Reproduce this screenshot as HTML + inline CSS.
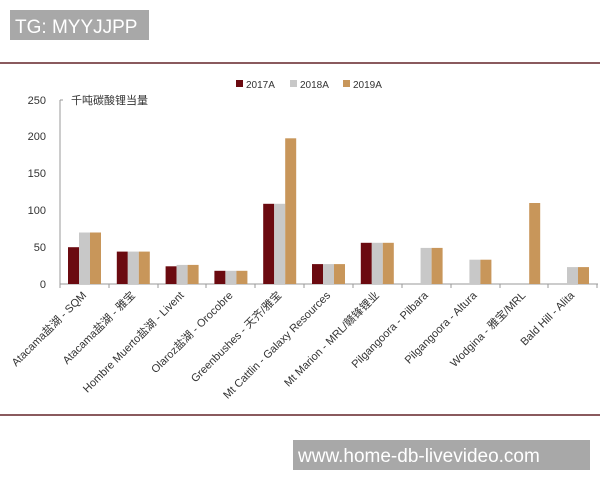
<!DOCTYPE html>
<html><head><meta charset="utf-8"><style>
body{margin:0;background:#fff;}
svg{display:block;font-family:"Liberation Sans","Noto Sans CJK SC",sans-serif;}
</style></head><body>
<svg width="600" height="480" viewBox="0 0 600 480" xmlns="http://www.w3.org/2000/svg">
<rect x="10" y="10" width="139" height="30" fill="#a8a8a8"/>
<text x="15" y="33" font-size="19" fill="#fff">TG: MYYJJPP</text>
<line x1="0" y1="63" x2="600" y2="63" stroke="#8a5a5e" stroke-width="2"/>
<line x1="0" y1="415" x2="600" y2="415" stroke="#8a5a5e" stroke-width="2"/>
<rect x="293" y="440" width="297" height="30" fill="#a8a8a8"/>
<text x="298" y="462" font-size="19" fill="#fff">www.home-db-livevideo.com</text>
<rect x="236" y="80" width="7" height="7" fill="#6b0a10"/><text x="246" y="88" font-size="10" fill="#333">2017A</text>
<rect x="290" y="80" width="7" height="7" fill="#c8c8c8"/><text x="300" y="88" font-size="10" fill="#333">2018A</text>
<rect x="343" y="80" width="7" height="7" fill="#c8965a"/><text x="353" y="88" font-size="10" fill="#333">2019A</text>
<g font-size="11" fill="#333" text-anchor="end">
<text x="46" y="288">0</text><text x="46" y="251">50</text><text x="46" y="214">100</text><text x="46" y="177">150</text><text x="46" y="140">200</text><text x="46" y="104">250</text>
</g>
<line x1="60" y1="100" x2="60" y2="284" stroke="#999"/>
<line x1="60" y1="100" x2="63" y2="100" stroke="#999"/>
<line x1="60" y1="284" x2="598" y2="284" stroke="#999"/>
<g stroke="#999">
<line x1="60" y1="284" x2="60" y2="288"/><line x1="109" y1="284" x2="109" y2="288"/><line x1="158" y1="284" x2="158" y2="288"/><line x1="206" y1="284" x2="206" y2="288"/><line x1="255" y1="284" x2="255" y2="288"/><line x1="304" y1="284" x2="304" y2="288"/><line x1="353" y1="284" x2="353" y2="288"/><line x1="402" y1="284" x2="402" y2="288"/><line x1="451" y1="284" x2="451" y2="288"/><line x1="500" y1="284" x2="500" y2="288"/><line x1="548" y1="284" x2="548" y2="288"/><line x1="597" y1="284" x2="597" y2="288"/>
</g>
<text x="71" y="104" font-size="11" fill="#333">千吨碳酸锂当量</text>
<g>
<rect x="68" y="247.2" width="11" height="36.8" fill="#6b0a10"/><rect x="79" y="232.5" width="11" height="51.5" fill="#c8c8c8"/><rect x="90" y="232.5" width="11" height="51.5" fill="#c8965a"/>
<rect x="116.8" y="251.6" width="11" height="32.4" fill="#6b0a10"/><rect x="127.8" y="251.6" width="11" height="32.4" fill="#c8c8c8"/><rect x="138.8" y="251.6" width="11" height="32.4" fill="#c8965a"/>
<rect x="165.6" y="266.3" width="11" height="17.7" fill="#6b0a10"/><rect x="176.6" y="264.9" width="11" height="19.1" fill="#c8c8c8"/><rect x="187.6" y="264.9" width="11" height="19.1" fill="#c8965a"/>
<rect x="214.4" y="270.8" width="11" height="13.2" fill="#6b0a10"/><rect x="225.4" y="270.8" width="11" height="13.2" fill="#c8c8c8"/><rect x="236.4" y="270.8" width="11" height="13.2" fill="#c8965a"/>
<rect x="263.2" y="203.8" width="11" height="80.2" fill="#6b0a10"/><rect x="274.2" y="203.8" width="11" height="80.2" fill="#c8c8c8"/><rect x="285.2" y="138.3" width="11" height="145.7" fill="#c8965a"/>
<rect x="312" y="264.1" width="11" height="19.9" fill="#6b0a10"/><rect x="323" y="264.1" width="11" height="19.9" fill="#c8c8c8"/><rect x="334" y="264.1" width="11" height="19.9" fill="#c8965a"/>
<rect x="360.8" y="242.8" width="11" height="41.2" fill="#6b0a10"/><rect x="371.8" y="242.8" width="11" height="41.2" fill="#c8c8c8"/><rect x="382.8" y="242.8" width="11" height="41.2" fill="#c8965a"/>
<rect x="420.6" y="247.9" width="11" height="36.1" fill="#c8c8c8"/><rect x="431.6" y="247.9" width="11" height="36.1" fill="#c8965a"/>
<rect x="469.4" y="259.7" width="11" height="24.3" fill="#c8c8c8"/><rect x="480.4" y="259.7" width="11" height="24.3" fill="#c8965a"/>
<rect x="529.2" y="203" width="11" height="81" fill="#c8965a"/>
<rect x="567" y="267.1" width="11" height="16.9" fill="#c8c8c8"/><rect x="578" y="267.1" width="11" height="16.9" fill="#c8965a"/>
</g>
<g font-size="11" fill="#333" text-anchor="end">
<text transform="translate(87,296) rotate(-45)">Atacama盐湖 - SQM</text>
<text transform="translate(135.8,296) rotate(-45)">Atacama盐湖 - 雅宝</text>
<text transform="translate(184.6,296) rotate(-45)">Hombre Muerto盐湖 - Livent</text>
<text transform="translate(233.4,296) rotate(-45)">Olaroz盐湖 - Orocobre</text>
<text transform="translate(282.2,296) rotate(-45)">Greenbushes - 天齐/雅宝</text>
<text transform="translate(331,296) rotate(-45)">Mt Cattlin - Galaxy Resources</text>
<text transform="translate(379.8,296) rotate(-45)">Mt Marion - MRL/赣锋锂业</text>
<text transform="translate(428.6,296) rotate(-45)">Pilgangoora - Pilbara</text>
<text transform="translate(477.4,296) rotate(-45)">Pilgangoora - Altura</text>
<text transform="translate(526.2,296) rotate(-45)">Wodgina - 雅宝/MRL</text>
<text transform="translate(575,296) rotate(-45)">Bald Hill - Alita</text>
</g>
</svg>
</body></html>
